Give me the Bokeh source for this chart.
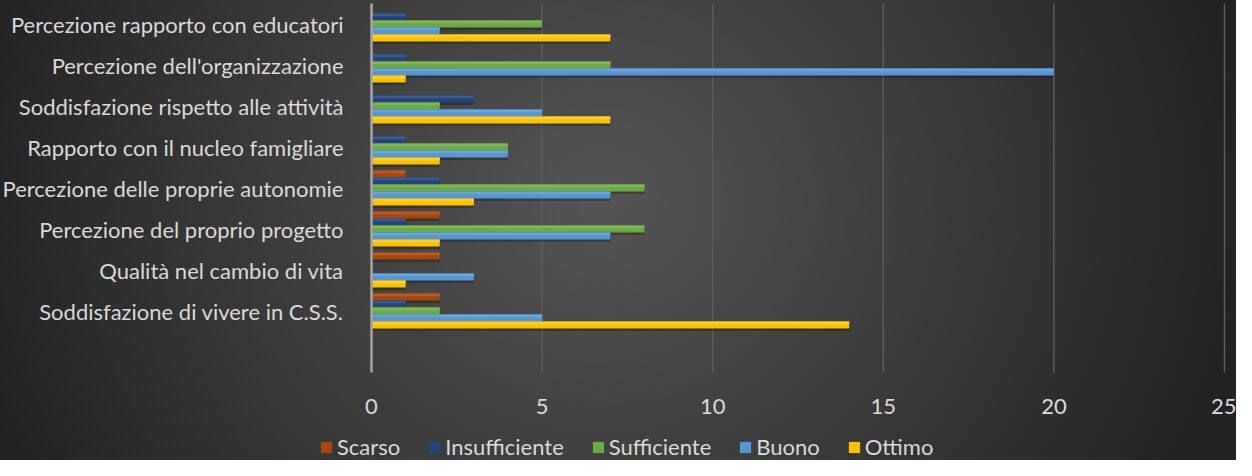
from bokeh.plotting import figure
from bokeh.models import ColumnDataSource, Range1d, Legend, LegendItem, FixedTicker
from bokeh.transform import dodge
from bokeh.embed import file_html
from bokeh.resources import INLINE

categories = [
    "Percezione rapporto con educatori",
    "Percezione dell'organizzazione",
    "Soddisfazione rispetto alle attività",
    "Rapporto con il nucleo famigliare",
    "Percezione delle proprie autonomie",
    "Percezione del proprio progetto",
    "Qualità nel cambio di vita",
    "Soddisfazione di vivere in C.S.S.",
]
scarso = [0, 0, 0, 0, 1, 2, 2, 2]
insufficiente = [1, 1, 3, 1, 2, 1, 0, 1]
sufficiente = [5, 7, 2, 4, 8, 8, 0, 2]
buono = [2, 20, 5, 4, 7, 7, 3, 5]
ottimo = [7, 1, 7, 2, 3, 2, 1, 14]
series_names = ["Scarso", "Insufficiente", "Sufficiente", "Buono", "Ottimo"]
series_cols = ["scarso", "insufficiente", "sufficiente", "buono", "ottimo"]
series_colors = ["#A5470F", "#264478", "#6CAA44", "#5596D3", "#FAC200"]
highlight_colors = ["#B85A22", "#3A5A92", "#7CB855", "#66A5DD", "#FFCE2A"]
x_ticks = [0, 5, 10, 15, 20, 25]

# ---- layout constants (pixels) ----
W, H = 1236, 460
left_px, right_px = 371, 1224      # where x=0 and x=25 fall
top_px, slot_px = 3, 41            # top of plot area, height of one category slot
nslots = len(categories) + 1       # one empty slot at the bottom, as in the original
xmax = x_ticks[-1]
x_per_px = xmax / (right_px - left_px)
x_start = -left_px * x_per_px
x_end = xmax + (W - right_px) * x_per_px
y_top = nslots - 0.5
y_bottom = -0.5
y_end = y_top + top_px / slot_px
y_start = y_top - (H - top_px) / slot_px

ypos = [nslots - 1 - i for i in range(len(categories))]

source = ColumnDataSource(dict(
    y=ypos, cat=categories, scarso=scarso, insufficiente=insufficiente,
    sufficiente=sufficiente, buono=buono, ottimo=ottimo,
))

p = figure(
    width=W, height=H,
    x_range=Range1d(x_start, x_end), y_range=Range1d(y_start, y_end),
    output_backend="svg", toolbar_location=None,
    min_border_left=0, min_border_right=0, min_border_top=0, min_border_bottom=0,
)
p.styles = {
    "background-image": "radial-gradient(ellipse 650px 600px at 600px 200px, #555555 0%, #2a2a2a 85%, #222222 100%)"
}
p.background_fill_alpha = 0
p.border_fill_alpha = 0
p.outline_line_color = None
p.grid.visible = False

# vertical grid lines limited to the plot area
grid_x = x_ticks[1:]
p.segment(x0=grid_x, x1=grid_x, y0=[y_bottom] * len(grid_x), y1=[y_top] * len(grid_x),
          line_color="#5c5c5c", line_width=1.5)

bar_h = 0.17
offsets = [0.34, 0.17, 0.0, -0.17, -0.34]
for col, off in zip(series_cols, offsets):
    p.hbar(y=dodge("y", off - 0.06), left=0, right=col,
           height=bar_h, source=source, fill_color="black", fill_alpha=0.25,
           line_color=None)
renderers = []
for col, color, hcol, off in zip(series_cols, series_colors, highlight_colors, offsets):
    r = p.hbar(y=dodge("y", off), left=0, right=col,
               height=bar_h, source=source, fill_color=color, line_color=None)
    p.hbar(y=dodge("y", off + bar_h * 0.3), left=0, right=col,
           height=bar_h * 0.4, source=source, fill_color=hcol, line_color=None)
    renderers.append(r)

# x axis
p.xaxis.fixed_location = y_bottom
p.xaxis.bounds = (0, xmax)
p.xaxis.ticker = FixedTicker(ticks=x_ticks)
p.xaxis.axis_line_color = None
p.xaxis.major_tick_line_color = None
p.xaxis.minor_tick_line_color = None
p.xaxis.major_label_text_font = "Lato"
p.xaxis.major_label_text_font_size = "22px"
p.xaxis.major_label_text_color = "#d9d9d9"
p.xaxis.major_label_standoff = 20

# y axis
p.yaxis.fixed_location = 0
p.yaxis.bounds = (y_bottom, y_top)
p.yaxis.ticker = FixedTicker(ticks=ypos)
p.yaxis.major_label_overrides = {yv: c for yv, c in zip(ypos, categories)}
p.yaxis.axis_line_color = "#a6a6a6"
p.yaxis.axis_line_width = 2.5
p.yaxis.major_tick_line_color = None
p.yaxis.minor_tick_line_color = None
p.yaxis.major_label_text_font = "Lato"
p.yaxis.major_label_text_font_size = "22px"
p.yaxis.major_label_text_color = "#d9d9d9"
p.yaxis.major_label_standoff = 22

legend = Legend(
    items=[LegendItem(label=n, renderers=[r]) for n, r in zip(series_names, renderers)],
    orientation="horizontal", location=(319, 0),
    glyph_width=14, glyph_height=14, label_standoff=4, spacing=27,
    padding=0, margin=0, border_line_color=None, background_fill_alpha=0,
    label_text_font="Lato", label_text_font_size="22px", label_text_color="#d9d9d9",
)
p.add_layout(legend)

open("out.html", "w").write(file_html(p, INLINE))
